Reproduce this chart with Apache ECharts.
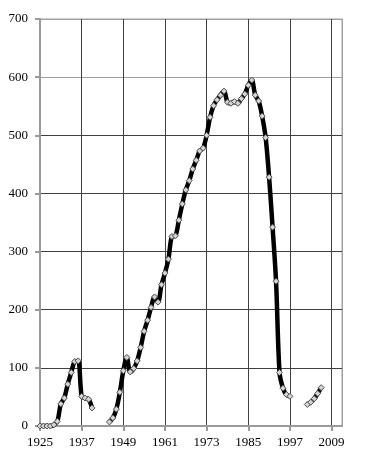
<!DOCTYPE html>
<html>
<head>
<meta charset="utf-8">
<script src="https://cdn.jsdelivr.net/npm/echarts@6/dist/echarts.min.js"></script>
<style>
	html, body { margin: 0; padding: 0; background: #fff; }
	#main { width: 376px; height: 464px; }
</style>
</head>
<body>
<div id="main"></div>
<script>
// one value per year, null = no data (gaps in the line)
var years = [];
for (var y = 1925; y <= 2012; y++) years.push(y);

var values = [
	0, 0, 0, 0, 2, 8, 38, 48, 72, 92,            // 1925-1934
	111, 112, 51, 48, 46, 31, null, null, null, null, // 1935-1944
	7, 14, 29, 58, 95, 118, 93, 99, 112, 135,    // 1945-1954
	163, 182, 204, 222, 213, 243, 263, 287, 326, 327, // 1955-1964
	354, 382, 406, 422, 442, 457, 473, 478, 500, 531, // 1965-1974
	551, 561, 569, 576, 557, 555, 558, 555, 563, 571, // 1975-1984
	586, 595, 569, 559, 533, 496, 428, 342, 249, 92,  // 1985-1994
	65, 54, 51, null, null, null, null, 37, 41, 47,   // 1995-2004
	56, 66, null, null, null, null, null, null        // 2005-2012
];

var yTicks = [0, 100, 200, 300, 400, 500, 600, 700];
var xLabelYears = [1925, 1937, 1949, 1961, 1973, 1985, 1997, 2009];

var seriesData = years.map(function (yr, i) {
	return [yr, values[i]];
});

var myChart = echarts.init(document.getElementById('main'));
var labelFont = {
	fontFamily: "'Liberation Serif', serif",
	fontSize: 13,
	color: '#000'
};
var option = {
	animation: false,
	grid: {
		left: 40,
		right: 34,
		top: 19,
		bottom: 38,
		show: true,
		borderColor: '#a0a0a0',
		borderWidth: 1
	},
	xAxis: {
		type: 'value',
		min: 1925,
		max: 2012,
		interval: 12,
		axisLine: { onZero: false, lineStyle: { color: '#9a9a9a', width: 2 } },
		axisTick: {
			length: 5,
			lineStyle: { color: '#9a9a9a', width: 2 }
		},
		axisLabel: Object.assign({
			margin: 10,
			showMaxLabel: false,
			formatter: function (v) {
				return xLabelYears.indexOf(v) >= 0 ? String(v) : '';
			}
		}, labelFont),
		splitLine: {
			show: true,
			lineStyle: {
				color: ['#9a9a9a', '#404040', '#404040', '#404040', '#404040', '#404040', '#404040', '#404040', '#a0a0a0'],
				width: 1
			}
		}
	},
	yAxis: {
		type: 'value',
		min: yTicks[0],
		max: yTicks[yTicks.length - 1],
		interval: 100,
		axisLine: { show: true, lineStyle: { color: '#9a9a9a', width: 2 } },
		axisTick: {
			show: true,
			length: 5,
			lineStyle: { color: '#9a9a9a', width: 2 }
		},
		axisLabel: Object.assign({ margin: 12 }, labelFont),
		splitLine: {
			show: true,
			lineStyle: {
				color: ['#9a9a9a', '#404040', '#404040', '#404040', '#404040', '#404040', '#a0a0a0', '#a0a0a0'],
				width: 1
			}
		}
	},
	series: [{
		type: 'line',
		data: seriesData,
		smooth: 0.3,
		connectNulls: false,
		symbol: 'diamond',
		symbolSize: 6,
		showAllSymbol: true,
		lineStyle: { color: '#000', width: 4.5 },
		itemStyle: {
			color: '#d4d4d4',
			borderColor: '#505050',
			borderWidth: 1
		}
	}]
};
myChart.setOption(option);
</script>
</body>
</html>
